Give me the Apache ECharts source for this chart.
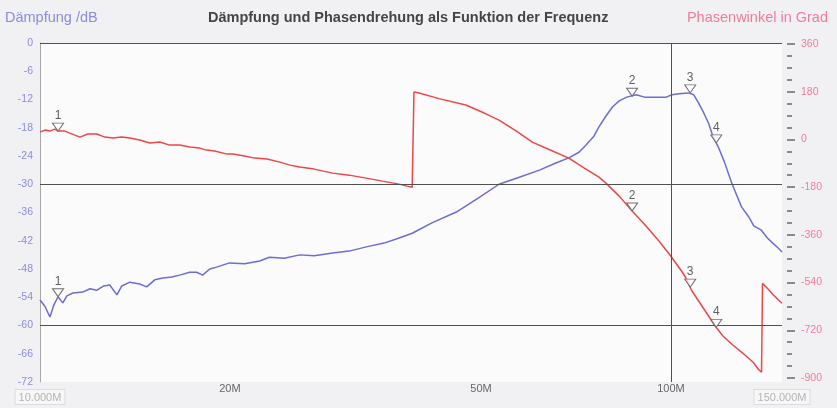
<!DOCTYPE html>
<html>
<head>
<meta charset="utf-8">
<title>Dämpfung und Phasendrehung</title>
<script src="https://cdn.jsdelivr.net/npm/echarts@6/dist/echarts.min.js"></script>
<style>
  html, body { margin: 0; padding: 0; background: #f1f1f3; }
  #chart { width: 837px; height: 408px; }
</style>
</head>
<body>
<div id="chart"></div>
<script>
// Attenuation trace: [frequency in MHz, attenuation in dB]
const attenuationTrace = [
  [10, -54.6], [10.18, -55.9], [10.37, -58.2], [10.52, -55.6], [10.68, -53.9], [10.87, -55.2],
  [11.03, -53.7], [11.28, -53.1], [11.69, -52.9], [12.0, -52.2], [12.31, -52.5], [12.62, -51.6],
  [12.9, -51.4], [13.24, -53.5], [13.48, -51.6], [13.88, -50.8], [14.39, -51.2], [14.76, -51.8],
  [15.2, -50.3], [15.65, -49.9], [16.17, -49.7], [16.65, -49.3], [17.27, -48.7], [17.71, -48.7],
  [18.1, -49.3], [18.58, -48.0], [19.05, -47.6], [19.97, -46.7], [21.1, -46.9], [22.3, -46.3],
  [23.1, -45.5], [24.4, -45.7], [25.8, -45.0], [27.2, -45.2], [29.1, -44.6], [30.9, -44.2],
  [32.9, -43.3], [35.1, -42.5], [37.1, -41.4], [38.9, -40.4], [41.8, -38.2], [45.7, -35.9],
  [49.7, -32.8], [53.4, -30.0], [57.5, -28.5], [61.9, -27.0], [65.7, -25.5], [68.9, -24.4],
  [71.5, -23.2], [73.3, -21.7], [75.5, -19.8], [76.9, -17.8], [78.9, -15.5], [80.8, -13.6],
  [82.8, -12.3], [85.1, -11.5], [88.1, -11.0], [90.8, -11.5], [93.3, -11.5], [95.8, -11.5],
  [98.3, -11.5], [100.4, -11.0], [102.9, -10.8], [106.7, -10.6], [108.7, -11.0], [110.6, -12.7],
  [112.6, -14.7], [114.7, -17.0], [116.7, -20.0], [118.9, -22.1], [121.6, -25.3], [124.8, -29.7],
  [127.1, -32.3], [129.4, -34.8], [132.8, -36.9], [135.4, -38.9], [139.0, -39.7], [142.2, -41.4],
  [145.0, -42.5], [147.8, -43.5], [150, -44.4]
];

// Phase trace: [frequency in MHz, phase angle in degrees], wrapped
const phaseTrace = [
  [10, 27.7], [10.18, 35.3], [10.37, 31.5], [10.56, 39.0], [10.68, 31.5], [10.95, 31.5],
  [11.15, 23.9], [11.57, 8.8], [11.91, 20.2], [12.31, 20.2], [12.67, 8.8], [13.05, 5.1],
  [13.48, 8.8], [13.88, 5.1], [14.39, -2.5], [14.93, -13.8], [15.48, -10.0], [16.05, -21.4],
  [16.65, -21.4], [17.27, -28.9], [17.91, -32.7], [18.37, -40.3], [18.92, -44.0], [19.8, -55.4],
  [20.2, -55.4], [21.1, -62.9], [21.9, -70.5], [22.9, -74.2], [24.0, -85.6], [24.9, -96.9],
  [25.8, -104.4], [27.2, -112.0], [29.1, -127.1], [30.9, -134.7], [32.9, -146.0], [34.9, -157.3],
  [37.1, -168.6], [38.2, -176.2], [38.9, -180.0], [39.1, -181.0], [39.15, 178.7], [39.9, 175.0],
  [42.9, 154.0], [47.3, 129.7], [50.6, 99.5], [53.4, 73.0], [56.9, 31.5], [60.3, -10.0],
  [64.1, -38.0], [68.9, -70.5], [72.7, -106.3], [76.9, -142.2], [78.9, -164.9], [82.8, -213.9],
  [86.6, -266.8], [90.8, -319.7], [95.8, -383.9], [100, -440.5], [104.0, -497.2], [105.5, -519.8],
  [107.8, -568.9], [112.6, -636.9], [117.6, -704.8], [121.0, -742.6], [125.5, -776.6], [130.1, -806.8],
  [135.0, -840.8], [137.6, -867.2], [139.2, -878.5], [139.5, -882.0], [139.7, -542.5], [142.7, -565.1],
  [145.5, -587.8], [150, -618.0]
];

// Numbered markers (frequency in MHz) and the trace readings at them
const markerFreqs = [10.68, 86.8, 107.3, 118.0];
const markerAttenuation = [-53.9, -11.3, -10.6, -21.2];
const markerPhase = [31.5, -270.0, -557.0, -709.0];

// Axis ticks
const freqTickLabels = [20, 50, 100];
const freqRange = [10, 150];
const attenuationRange = [-72, 0];
const phaseRange = [-900, 360];
const referenceLevels = [0, -30, -60];
const referenceFreq = 100;

const FONT = 'Liberation Sans, Arial, sans-serif';
const markerSymbol = 'path://M0,0 L12,0 L6,9 Z';

function markerData(values) {
  return markerFreqs.map((f, i) => ({ coord: [f, values[i]], value: i + 1 }));
}

const markerStyle = {
  symbol: markerSymbol,
  symbolSize: [11, 8],
  symbolOffset: [0, '-50%'],
  itemStyle: { color: 'rgba(255,255,255,0.7)', borderColor: '#707070', borderWidth: 1 },
  label: { show: true, position: 'top', distance: 1, color: '#606060', fontSize: 12, fontFamily: FONT, formatter: '{c}' },
  silent: true
};

const chart = echarts.init(document.getElementById('chart'), null, { renderer: 'canvas' });

chart.setOption({
  backgroundColor: '#f1f1f3',
  animation: false,
  textStyle: { fontFamily: FONT },
  title: [
    {
      text: 'Dämpfung und Phasendrehung als Funktion der Frequenz',
      left: 208, top: 10, padding: 0,
      textStyle: { fontSize: 14.5, fontWeight: 'bold', color: '#454545', fontFamily: FONT }
    },
    {
      text: 'Dämpfung /dB',
      left: 5, top: 10, padding: 0,
      textStyle: { fontSize: 14.5, fontWeight: 'normal', color: '#8c8cdc', fontFamily: FONT }
    },
    {
      text: 'Phasenwinkel in Grad',
      right: 9, top: 10, padding: 0,
      textStyle: { fontSize: 14.5, fontWeight: 'normal', color: '#f07c9c', fontFamily: FONT }
    }
  ],
  grid: [
    { left: 40, right: 55, top: 43, height: 339, show: true, backgroundColor: '#fbfbfb', borderWidth: 0 },
    { left: 40, right: 55, top: 44, height: 334 }
  ],
  xAxis: [
    {
      gridIndex: 0, type: 'log', logBase: 10, position: 'bottom', offset: 0,
      min: freqRange[0], max: freqRange[1],
      axisLine: { show: false }, axisTick: { show: false }, splitLine: { show: false },
      axisLabel: {
        customValues: freqTickLabels,
        formatter: v => Math.round(v) + 'M',
        color: '#666', fontSize: 11, margin: 1, fontFamily: FONT
      }
    },
    {
      gridIndex: 0, type: 'log', logBase: 10, position: 'bottom', offset: 0,
      min: freqRange[0], max: freqRange[1],
      axisLine: { show: false }, axisTick: { show: false }, splitLine: { show: false },
      axisLabel: {
        customValues: freqRange,
        formatter: v => v.toFixed(3) + 'M',
        color: '#b4b4b4', fontSize: 11, margin: 8, fontFamily: FONT,
        backgroundColor: '#f7f7f7', borderColor: '#dcdcdc', borderWidth: 1, padding: [2, 3, 1, 3]
      }
    },
    {
      gridIndex: 1, type: 'log', logBase: 10, min: freqRange[0], max: freqRange[1], show: false
    }
  ],
  yAxis: [
    {
      gridIndex: 0, type: 'value', position: 'left',
      min: attenuationRange[0], max: attenuationRange[1], interval: 6,
      axisLine: { show: true, lineStyle: { color: '#a8a8a8', width: 1 } },
      axisTick: { show: false }, splitLine: { show: false },
      axisLabel: { color: '#8c8ce0', fontSize: 10.5, margin: 7, fontFamily: FONT }
    },
    {
      gridIndex: 1, type: 'value', position: 'right', offset: 5,
      min: phaseRange[0], max: phaseRange[1], interval: 180,
      axisLine: { show: false },
      axisTick: { show: true, length: 8, lineStyle: { color: '#6a6a6a', width: 1.5 } },
      minorTick: { show: true, splitNumber: 4, length: 5, lineStyle: { color: '#6a6a6a', width: 1.5 } },
      splitLine: { show: false },
      axisLabel: { color: '#f07c9c', fontSize: 10.5, margin: 14, fontFamily: FONT }
    }
  ],
  series: [
    {
      name: 'Dämpfung',
      type: 'line', xAxisIndex: 0, yAxisIndex: 0,
      data: attenuationTrace,
      showSymbol: false,
      lineStyle: { color: '#6c6cd2', width: 1.5 },
      markLine: {
        silent: true, symbol: ['none', 'none'],
        label: { show: false },
        lineStyle: { color: '#505050', width: 1, type: 'solid' },
        data: referenceLevels.map(v => ({ yAxis: v })).concat([{ xAxis: referenceFreq }])
      },
      markPoint: Object.assign({ data: markerData(markerAttenuation) }, markerStyle)
    },
    {
      name: 'Phasenwinkel',
      type: 'line', xAxisIndex: 2, yAxisIndex: 1,
      data: phaseTrace,
      showSymbol: false,
      lineStyle: { color: '#ee4646', width: 1.5 },
      markPoint: Object.assign({ data: markerData(markerPhase) }, markerStyle)
    }
  ]
});
</script>
</body>
</html>
